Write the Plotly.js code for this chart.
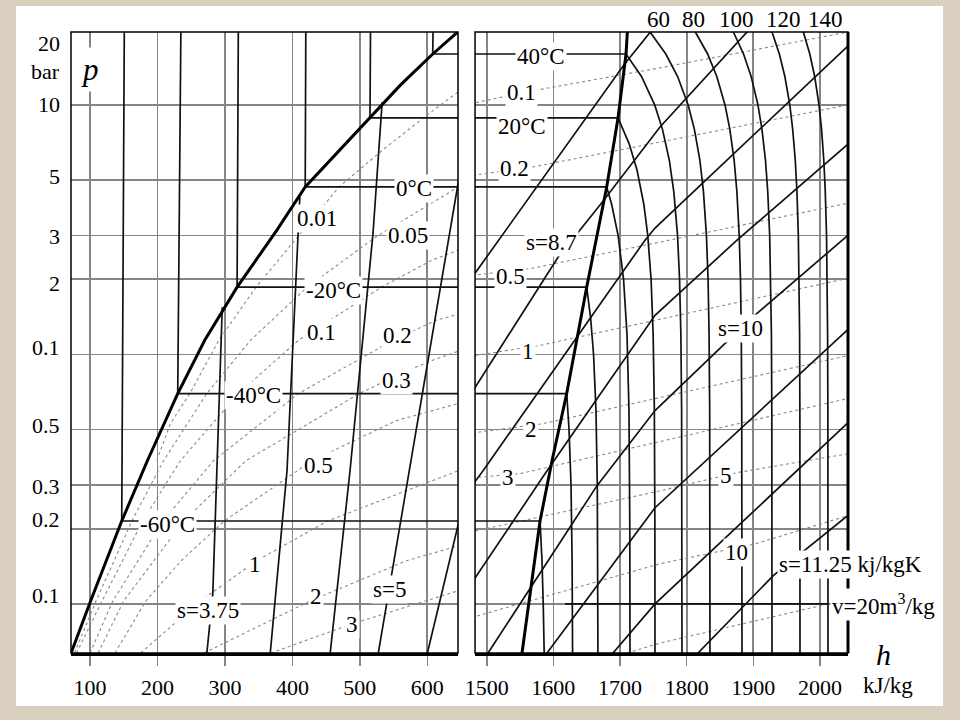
<!DOCTYPE html>
<html><head><meta charset="utf-8">
<script src="https://cdn.plot.ly/plotly-3.0.1.min.js"></script>
<style>html,body{margin:0;padding:0;background:#d8cfbf;}#chart{width:960px;height:720px;}</style>
</head><body><div id="chart"></div>
<script>
const SERIF = 'Liberation Serif, Times New Roman, serif';

// ---------- axis ticks ----------
const hTicksLeft = [100, 200, 300, 400, 500, 600];
const hTicksRight = [1500, 1600, 1700, 1800, 1900, 2000];
const pGrid = [0.1, 0.2, 0.3, 0.5, 1, 2, 3, 5, 10];
const yTickText = ['20', 'bar', '10', '5', '3', '2', '0.1', '0.5', '0.3', '0.2', '0.1'];
const yTickP = [17.7, 13.6, 10, 5.16, 2.96, 1.92, 1.062, 0.521, 0.296, 0.2185, 0.1082];

// ---------- saturation curves (h kJ/kg, p bar) ----------
const satLiquidH = [72, 101, 147, 185, 230, 270, 318, 377, 419, 470, 515, 560, 608, 645];
const satLiquidP = [0.0636, 0.103, 0.215, 0.375, 0.697, 1.14, 1.86, 3.15, 4.69, 6.6, 8.87, 12.0, 16.0, 19.6];
const satVapourH = [1553, 1580, 1598, 1620, 1650, 1680, 1697, 1709, 1711];
const satVapourP = [0.0636, 0.215, 0.375, 0.697, 1.86, 4.69, 8.87, 16.0, 19.6];

// ---------- isotherms ----------
const isoM60H = [151, 147, 1580, 1582.9, 1584.8, 1587];
const isoM60P = [25, 0.215, 0.215, 0.15, 0.1, 0.05];
const isoM40H = [235, 230, 1620, 1623.5, 1626.5, 1628.1, 1629];
const isoM40P = [25, 0.697, 0.697, 0.5, 0.3, 0.15, 0.05];
const isoM20H = [320, 318, 1650, 1655.9, 1660.3, 1663.9, 1665.9, 1666.6, 1667];
const isoM20P = [25, 1.86, 1.86, 1.4, 1, 0.6, 0.3, 0.15, 0.05];
const iso0H = [420, 419, 1680, 1687.4, 1697.1, 1705.3, 1710.5, 1713.4, 1714.7, 1715];
const iso0P = [25, 4.69, 4.69, 4, 3, 2, 1.2, 0.6, 0.2, 0.05];
const iso20H = [516, 515, 1697, 1713.6, 1725.4, 1735.7, 1741.6, 1746.6, 1749.7, 1751.5, 1752.3, 1752.5];
const iso20P = [25, 8.87, 8.87, 7, 5.5, 4, 3, 2, 1.2, 0.6, 0.2, 0.05];
const iso40H = [609, 608, 1709, 1732.2, 1752, 1763.6, 1774, 1780.6, 1786.3, 1789.3, 1791.3, 1792.4, 1793];
const iso40P = [25, 16.0, 16.0, 13, 10, 8, 6, 4.5, 3, 2, 1.2, 0.6, 0.05];
const superP = [22, 19.6, 16, 13, 10, 8, 6, 4.5, 3, 2, 1.2, 0.6, 0.05];
const iso60H = [1728, 1745, 1768.7, 1786.4, 1802.2, 1811.5, 1819.8, 1825.1, 1829.6, 1832.1, 1833.6, 1834.5, 1835];
const iso80H = [1800, 1813, 1831.4, 1845.2, 1857.5, 1864.7, 1871.2, 1875.3, 1878.8, 1880.7, 1881.9, 1882.6, 1883];
const iso100H = [1859, 1870, 1885.3, 1896.7, 1906.9, 1912.9, 1918.2, 1921.6, 1924.5, 1926.1, 1927.1, 1927.7, 1928];
const iso120H = [1920, 1928, 1939, 1947.3, 1954.7, 1959, 1962.9, 1965.4, 1967.5, 1968.6, 1969.4, 1969.8, 1970];
const iso140H = [1968, 1975, 1984.7, 1992, 1998.5, 2002.3, 2005.7, 2007.9, 2009.8, 2010.8, 2011.4, 2011.8, 2012];

// ---------- isentropes ----------
const sA_H = [296, 282, 273];            const sA_P = [1.545, 0.1096, 0.0628];
const sB_H = [411, 392, 367];            const sB_P = [4.27, 0.342, 0.0628];
const sC_H = [533, 519.5, 485.4, 455.8]; const sC_P = [10.24, 3.06, 0.342, 0.0628];
const sD_H = [649, 549, 527];            const sD_P = [5.49, 0.139, 0.0628];
const sE_H = [647, 599.6];               const sE_P = [0.215, 0.0628];
const s1_H = [1460, 1482.5, 1706, 1745, 1760];               const s1_P = [1.726, 2.115, 14.48, 19.6, 21.9];
const s2_H = [1460, 1482.5, 1607, 1670, 1760, 1892, 1907];   const s2_P = [0.496, 0.737, 2.45, 3.97, 8.16, 19.6, 21.9];
const s3_H = [1470, 1494.5, 1737.5, 1752.5, 2040.5, 2075];   const s3_P = [0.279, 0.342, 2.87, 3.21, 17.1, 20.9];
const s4_H = [1460, 1482.5, 1590.5, 1752.5, 1875.5, 2040.5, 2075]; const s4_P = [0.0879, 0.127, 0.342, 1.434, 2.87, 6.91, 8.31];
const s5_H = [1490, 1502, 1665.5, 1752.5, 1854.5, 1905.5, 2040.5, 2075]; const s5_P = [0.0564, 0.0636, 0.298, 0.596, 1.087, 1.461, 2.98, 3.58];
const s6_H = [1580, 1590.5, 1752.5, 2040.5, 2075];   const s6_P = [0.058, 0.0636, 0.243, 1.248, 1.502];
const s7_H = [1677.5, 1689.5, 1752.5, 2040.5, 2075]; const s7_P = [0.058, 0.0636, 0.1, 0.528, 0.624];
const s8_H = [1805, 1817, 1929.5, 2040.5, 2075];     const s8_P = [0.058, 0.0636, 0.1296, 0.2257, 0.2665];

// ---------- specific volume lines (m3/kg) ----------
const vol001H = [199, 219, 248, 291, 346, 407, 469, 534, 594, 646];
const vol001P = [0.375, 0.528, 0.697, 1.14, 1.86, 2.95, 4.69, 6.6, 8.87, 11.3];
const vol005H = [77, 109, 162, 209, 273, 338, 422, 523, 572, 646];
const vol005P = [0.0636, 0.103, 0.215, 0.375, 0.697, 1.14, 1.86, 2.95, 3.55, 4.69];
const vol01H = [80, 118, 178, 234, 320, 409, 532, 606, 646, 1482.5, 1551.5, 1760, 2042];
const vol01P = [0.0636, 0.103, 0.215, 0.375, 0.697, 1.14, 1.86, 2.38, 2.62, 10.19, 11.17, 14.08, 19.6];
const vol02H = [100, 134, 208, 283, 409, 549, 613, 646, 1482.5, 1569.5, 1760, 2042];
const vol02P = [0.0636, 0.103, 0.215, 0.375, 0.697, 1.14, 1.37, 1.45, 5.24, 5.64, 7.10, 10.0];
const vol03H = [112, 150, 239, 331, 499, 571, 607, 646];
const vol03P = [0.0636, 0.103, 0.215, 0.375, 0.697, 0.862, 0.946, 1.03];
const vol05H = [137, 183, 235, 299, 429, 554, 646, 1482.5, 1568, 1760, 2042];
const vol05P = [0.0636, 0.103, 0.149, 0.215, 0.375, 0.543, 0.636, 2.08, 2.215, 2.82, 4.04];
const vol1H = [175, 264, 347, 452, 646, 1482.5, 1580, 2042];
const vol1P = [0.0636, 0.103, 0.149, 0.215, 0.342, 0.99, 1.087, 2.02];
const vol2H = [269, 427, 569, 646, 1482.5, 1584.5, 2042];
const vol2P = [0.0636, 0.103, 0.149, 0.171, 0.486, 0.528, 0.99];
const vol3H = [368, 488, 646, 1482.5, 1550, 2042];
const vol3P = [0.0636, 0.0831, 0.113, 0.321, 0.333, 0.666];
const vol5H = [1482.5, 1760, 1875.5, 2042];
const vol5P = [0.196, 0.284, 0.336, 0.400];
const vol10H = [1485.5, 1760, 1902.5, 2042];
const vol10P = [0.0895, 0.145, 0.174, 0.226];
const vol20H = [1710.5, 1760, 2012, 2042];
const vol20P = [0.0636, 0.0697, 0.1, 0.105];
const leaderH = [1617.5, 2012];
const leaderP = [0.1, 0.1];

// ---------- labels ----------
const isoLabelText = ['40°C', '20°C', '0°C', '-20°C', '-40°C', '-60°C'];
const isoLabelH = [1581.5, 1553, 580.3, 460.2, 341.6, 214.1];
const isoLabelP = [15.7, 8.16, 4.64, 1.807, 0.684, 0.2077];
const isoLabelAxis = ['x2', 'x2', 'x', 'x', 'x', 'x'];
const topLabelText = ['60', '80', '100', '120', '140'];
const topLabelH = [1757, 1809.5, 1874, 1944.5, 2007.5];
const volLabelText = ['0.01', '0.05', '0.1', '0.2', '0.3', '0.5', '1', '2', '3', '0.1', '0.2', '0.5', '1', '2', '3', '5', '10'];
const volLabelH = [436.5, 571.4, 442.4, 555.1, 553.6, 438, 344.6, 435, 488, 1551.5, 1541, 1535, 1562, 1567, 1532, 1859, 1874];
const volLabelP = [3.52, 2.99, 1.226, 1.192, 0.786, 0.358, 0.1437, 0.107, 0.0831, 11.17, 5.58, 2.05, 1.023, 0.502, 0.322, 0.327, 0.161];
const volLabelAxis = ['x','x','x','x','x','x','x','x','x','x2','x2','x2','x2','x2','x2','x2','x2'];
const entLabelText = ['s=3.75', 's=5', 's=8.7', 's=10'];
const entLabelH = [275.6, 543.2, 1596.5, 1880];
const entLabelP = [0.0938, 0.1148, 2.80, 1.266];
const entLabelAxis = ['x', 'x', 'x2', 'x2'];
// labels placed outside the plotting area (paper fractions)
const outerLabelText = ['s=11.25 kj/kgK', 'v=20m<sup>3</sup>/kg', 'kJ/kg'];
const outerLabelX = [1.0026, 1.0463, 1.0521];
const outerLabelY = [0.1433, 0.0773, -0.0531];

// ---------- traces ----------
const BLACK = {color: '#111', width: 1.7};
const THICK = {color: '#000', width: 3};
const DOT = {color: '#8a8a8a', width: 1.1, dash: 'dot'};
const traces = [];
function addLine(h, p, style) {
  ['x', 'x2'].forEach(ax => traces.push({
    type: 'scatter', mode: 'lines', x: h, y: p, xaxis: ax, yaxis: 'y',
    line: style, hoverinfo: 'skip', showlegend: false
  }));
}
[[vol001H, vol001P], [vol005H, vol005P], [vol01H, vol01P], [vol02H, vol02P], [vol03H, vol03P],
 [vol05H, vol05P], [vol1H, vol1P], [vol2H, vol2P], [vol3H, vol3P], [vol5H, vol5P],
 [vol10H, vol10P], [vol20H, vol20P]].forEach(d => addLine(d[0], d[1], DOT));
[[sA_H, sA_P], [sB_H, sB_P], [sC_H, sC_P], [sD_H, sD_P], [sE_H, sE_P],
 [s1_H, s1_P], [s2_H, s2_P], [s3_H, s3_P], [s4_H, s4_P], [s5_H, s5_P],
 [s6_H, s6_P], [s7_H, s7_P], [s8_H, s8_P]].forEach(d => addLine(d[0], d[1], BLACK));
[[isoM60H, isoM60P], [isoM40H, isoM40P], [isoM20H, isoM20P], [iso0H, iso0P],
 [iso20H, iso20P], [iso40H, iso40P], [iso60H, superP], [iso80H, superP],
 [iso100H, superP], [iso120H, superP], [iso140H, superP]].forEach(d => addLine(d[0], d[1], BLACK));
addLine(leaderH, leaderP, BLACK);
addLine(satLiquidH, satLiquidP, THICK);
addLine(satVapourH, satVapourP, THICK);

// ---------- annotations ----------
const LABEL_FONT = {family: SERIF, size: 23, color: '#000'};
const ann = [];
function lab(text, h, p, xref) {
  ann.push({text: text, x: h, y: Math.log10(p), xref: xref, yref: 'y', showarrow: false,
    xanchor: 'center', yanchor: 'middle', bgcolor: 'white', borderpad: 1, font: LABEL_FONT});
}
isoLabelText.forEach((t, i) => lab(t, isoLabelH[i], isoLabelP[i], isoLabelAxis[i]));
volLabelText.forEach((t, i) => lab(t, volLabelH[i], volLabelP[i], volLabelAxis[i]));
entLabelText.forEach((t, i) => lab(t, entLabelH[i], entLabelP[i], entLabelAxis[i]));
topLabelText.forEach((t, i) => ann.push({text: t, x: topLabelH[i], xref: 'x2', y: 1.0195, yref: 'paper',
  showarrow: false, xanchor: 'center', yanchor: 'middle', font: LABEL_FONT}));
outerLabelText.forEach((t, i) => ann.push({text: t, x: outerLabelX[i], xref: 'paper', y: outerLabelY[i], yref: 'paper',
  showarrow: false, xanchor: 'center', yanchor: 'middle', bgcolor: i < 2 ? 'white' : 'rgba(0,0,0,0)',
  borderpad: 1, font: LABEL_FONT}));
yTickText.forEach((t, i) => ann.push({
  text: t, xref: 'paper', x: -0.0116, xanchor: 'right', yref: 'y', y: Math.log10(yTickP[i]),
  yanchor: 'middle', showarrow: false, font: {family: SERIF, size: 22, color: '#000'}
}));
ann.push({text: '<i>p</i>', xref: 'x', x: 100, yref: 'y', y: Math.log10(13.9), showarrow: false,
  xanchor: 'center', yanchor: 'middle', bgcolor: 'white', borderpad: 4,
  font: {family: SERIF, size: 31, color: '#000'}});
ann.push({text: '<i>h</i>', xref: 'paper', x: 1.0457, yref: 'paper', y: -0.0032, showarrow: false,
  xanchor: 'center', yanchor: 'middle', font: {family: SERIF, size: 30, color: '#000'}});

// ---------- layout ----------
const axisCommon = {
  showgrid: true, gridcolor: '#858585', gridwidth: 1.7, zeroline: false,
  showline: true, linecolor: '#000', linewidth: 3,
  ticks: 'outside', ticklen: 10, tickwidth: 1.6, tickcolor: '#858585',
  tickfont: {family: SERIF, size: 22, color: '#000'}, ticklabelstandoff: 3, fixedrange: true
};
const layout = {
  width: 960, height: 720,
  margin: {l: 71, r: 112, t: 32, b: 67},
  paper_bgcolor: '#d8cfbf', plot_bgcolor: 'white',
  showlegend: false,
  xaxis: Object.assign({}, axisCommon, {domain: [0, 0.4981], range: [71.8, 645.5], tickvals: hTicksLeft, anchor: 'y'}),
  xaxis2: Object.assign({}, axisCommon, {domain: [0.52, 1], range: [1482.5, 2042], tickvals: hTicksRight, anchor: 'y'}),
  yaxis: {type: 'log', range: [Math.log10(0.0636), Math.log10(19.6)], tickvals: pGrid,
    showticklabels: false, ticks: '', showgrid: true, gridcolor: '#858585', gridwidth: 1.7,
    zeroline: false, showline: false, fixedrange: true},
  shapes: [
    {type: 'rect', xref: 'paper', yref: 'paper', x0: -0.0708, x1: 1.1223, y0: -0.0853, y1: 1.0419,
      fillcolor: 'white', line: {width: 0}, layer: 'below'},
    {type: 'rect', xref: 'x domain', yref: 'y domain', x0: 0, x1: 1, y0: 0, y1: 1,
      fillcolor: 'rgba(0,0,0,0)', line: {color: '#000', width: 1.5}, layer: 'above'},
    {type: 'rect', xref: 'x2 domain', yref: 'y domain', x0: 0, x1: 1, y0: 0, y1: 1,
      fillcolor: 'rgba(0,0,0,0)', line: {color: '#000', width: 1.5}, layer: 'above'},
    {type: 'line', xref: 'x2 domain', yref: 'y domain', x0: 1, x1: 1, y0: 0, y1: 1,
      line: {color: '#000', width: 3}, layer: 'above'}
  ],
  annotations: ann
};
Plotly.newPlot('chart', traces, layout, {staticPlot: true, displayModeBar: false});
</script></body></html>
